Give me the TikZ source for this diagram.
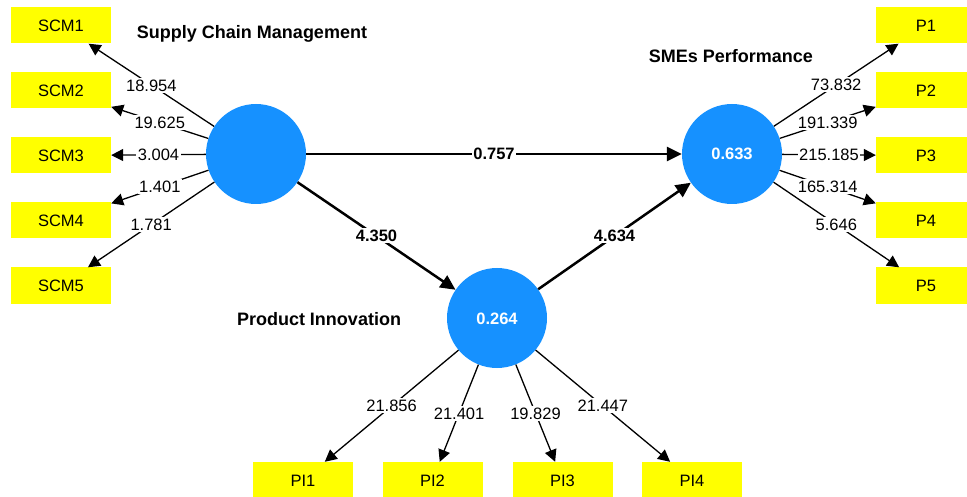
\documentclass[tikz,border=0pt]{standalone}
\usepackage{fontspec}
\setmainfont{Liberation Sans}
\usetikzlibrary{arrows.meta}
\definecolor{lvblue}{RGB}{22,145,255}
\definecolor{indyellow}{RGB}{255,255,0}
\begin{document}
\begin{tikzpicture}[x=1pt,y=-1pt,
  indicator/.style={fill=indyellow, minimum width=100pt, minimum height=36pt,
    inner sep=0pt, font=\fontsize{16.5}{18}\selectfont, text height=12pt, text depth=0pt},
  construct/.style={circle, fill=lvblue, minimum size=100pt, inner sep=0pt,
    text=white, font=\bfseries\fontsize{16.5}{18}\selectfont, text height=12pt, text depth=0pt},
  ctitle/.style={font=\bfseries\fontsize{18}{20}\selectfont, anchor=base, inner sep=0pt},
  loading/.style={line width=1.3pt, -{Triangle[length=12pt,width=12pt]}},
  structural/.style={line width=2.5pt, -{Triangle[length=15pt,width=14pt]}},
  lval/.style={fill=white, inner sep=1.5pt, pos=0.5,
    font=\fontsize{16.5}{18}\selectfont, text height=12pt, text depth=0pt},
  sval/.style={lval, font=\bfseries\fontsize{16.5}{18}\selectfont}
]
\useasboundingbox (0,0) rectangle (967,497);

% latent variables
\node[construct] (scm) at (256,154) {};
\node[construct] (sme) at (732,154) {0.633};
\node[construct] (pi)  at (497,318) {0.264};

% construct names
\node[ctitle] (tscm) at (252,39) {Supply Chain Management};
\node[ctitle] (tsme) at (731,63) {SMEs Performance};
\node[ctitle] (tpi)  at (319,325) {Product Innovation};

% indicators
\foreach \i/\y in {1/25.5,2/90.5,3/155.5,4/220.5,5/285.5}{
  \node[indicator] (scm\i) at (61,\y) {SCM\i};
  \node[indicator] (p\i) at (926,\y) {P\i};
}
\foreach \i/\x in {1/303,2/432.5,3/562.5,4/692}{
  \node[indicator] (pi\i) at (\x,480) {PI\i};
}

% outer loadings
\draw[loading] (scm) -- node[lval]{18.954} (scm1);
\draw[loading] (scm) -- node[lval]{19.625} (scm2);
\draw[loading] (scm) -- node[lval]{3.004} (scm3);
\draw[loading] (scm) -- node[lval]{1.401} (scm4);
\draw[loading] (scm) -- node[lval]{1.781} (scm5);

\draw[loading] (sme) -- node[lval]{73.832} (p1);
\draw[loading] (sme) -- node[lval]{191.339} (p2);
\draw[loading] (sme) -- node[lval]{215.185} (p3);
\draw[loading] (sme) -- node[lval]{165.314} (p4);
\draw[loading] (sme) -- node[lval]{5.646} (p5);

\draw[loading] (pi) -- node[lval]{21.856} (pi1);
\draw[loading] (pi) -- node[lval]{21.401} (pi2);
\draw[loading] (pi) -- node[lval]{19.829} (pi3);
\draw[loading] (pi) -- node[lval]{21.447} (pi4);

% structural paths
\draw[structural] (scm) -- node[sval]{0.757} (sme);
\draw[structural] (scm) -- node[sval]{4.350} (pi);
\draw[structural] (pi) -- node[sval]{4.634} (sme);
\end{tikzpicture}
\end{document}
